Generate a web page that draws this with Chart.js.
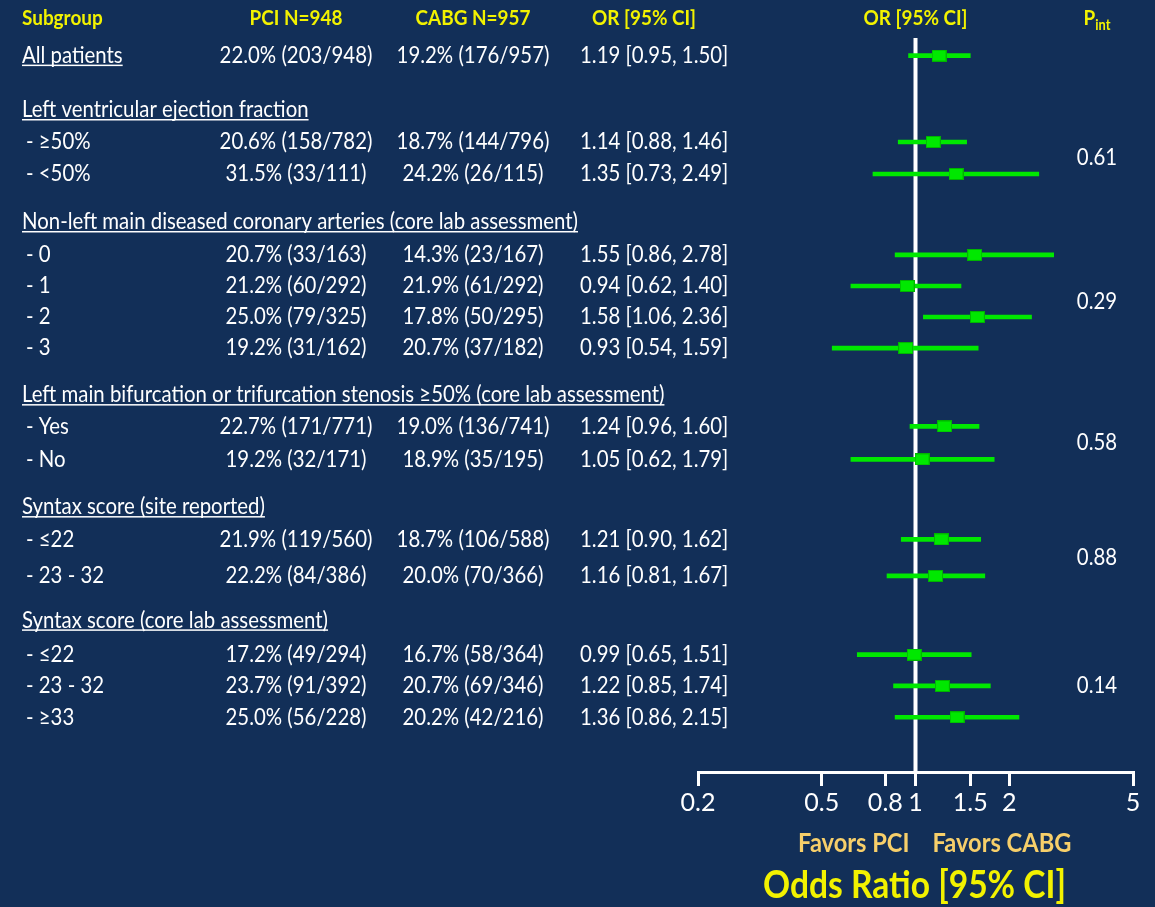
<!DOCTYPE html>
<html>
<head>
<meta charset="utf-8">
<title>Forest plot: PCI vs CABG by subgroup</title>
<script src="https://cdn.jsdelivr.net/npm/chart.js@4/dist/chart.umd.min.js"></script>
<style>
  html, body { margin: 0; padding: 0; background: #122f58; }
  #wrap { width: 1155px; height: 907px; position: relative; }
</style>
</head>
<body>
<div id="wrap"><canvas id="forest"></canvas></div>
<script>
// ---- Table and plot data ----
const rowLabels = [
  'All patients',
  'Left ventricular ejection fraction', '- ≥50%', '- <50%',
  'Non-left main diseased coronary arteries (core lab assessment)', '- 0', '- 1', '- 2', '- 3',
  'Left main bifurcation or trifurcation stenosis ≥50% (core lab assessment)', '- Yes', '- No',
  'Syntax score (site reported)', '- ≤22', '- 23 - 32',
  'Syntax score (core lab assessment)', '- ≤22', '- 23 - 32', '- ≥33'
];
const pciPct     = [22.0, null, 20.6, 31.5, null, 20.7, 21.2, 25.0, 19.2, null, 22.7, 19.2, null, 21.9, 22.2, null, 17.2, 23.7, 25.0];
const pciEvents  = [203, null, 158, 33, null, 33, 60, 79, 31, null, 171, 32, null, 119, 84, null, 49, 91, 56];
const pciTotal   = [948, null, 782, 111, null, 163, 292, 325, 162, null, 771, 171, null, 560, 386, null, 294, 392, 228];
const cabgPct    = [19.2, null, 18.7, 24.2, null, 14.3, 21.9, 17.8, 20.7, null, 19.0, 18.9, null, 18.7, 20.0, null, 16.7, 20.7, 20.2];
const cabgEvents = [176, null, 144, 26, null, 23, 61, 50, 37, null, 136, 35, null, 106, 70, null, 58, 69, 42];
const cabgTotal  = [957, null, 796, 115, null, 167, 292, 295, 182, null, 741, 195, null, 588, 366, null, 364, 346, 216];
const oddsRatio  = [1.19, null, 1.14, 1.35, null, 1.55, 0.94, 1.58, 0.93, null, 1.24, 1.05, null, 1.21, 1.16, null, 0.99, 1.22, 1.36];
const ciLower    = [0.95, null, 0.88, 0.73, null, 0.86, 0.62, 1.06, 0.54, null, 0.96, 0.62, null, 0.90, 0.81, null, 0.65, 0.85, 0.86];
const ciUpper    = [1.50, null, 1.46, 2.49, null, 2.78, 1.40, 2.36, 1.59, null, 1.60, 1.79, null, 1.62, 1.67, null, 1.51, 1.74, 2.15];
const pInteraction     = ['0.61', '0.29', '0.58', '0.88', '0.14'];
const pInteractionRows = [[2, 3], [5, 6, 7, 8], [10, 11], [13, 14], [16, 17, 18]];
const xTickValues = [0.2, 0.5, 0.8, 1, 1.5, 2, 5];
const columnTitles = ['Subgroup', 'PCI N=948', 'CABG N=957', 'OR [95% CI]', 'OR [95% CI]'];
const favorsLabels = ['Favors PCI', 'Favors CABG'];
const axisTitle = 'Odds Ratio [95% CI]';

// ---- Layout (vertical position of each row, in row units down from the top of the plot) ----
const rowPos = [0.55, 2.25, 3.25, 4.25, 5.75, 6.78, 7.75, 8.72, 9.69, 11.16, 12.14, 13.17,
                14.66, 15.67, 16.81, 18.2, 19.27, 20.25, 21.23];
const rowSpan = 22.94;

// ---- Style ----
const NAVY = '#122f58';
const GREEN = '#00e800';
const YELLOW = '#f2f200';
const GOLD = '#f7cf6a';
const WHITE = '#ffffff';
const FAMILY = 'Lato, "Liberation Sans", sans-serif';
const TEXT_STRETCH = 1.12;   // taller glyphs for the same width

const measureCtx = document.createElement('canvas').getContext('2d');
function fitSize(text, width, weight) {
  measureCtx.font = `${weight} 100px ${FAMILY}`;
  return 100 * width / measureCtx.measureText(text).width;
}
const bodySize   = fitSize(rowLabels[9], 643, 'normal');
const headSize   = fitSize(columnTitles[1], 93, 'bold');
const favorsSize = fitSize(favorsLabels[1], 139, 'bold');
const titleSize  = fitSize(axisTitle, 303, 'bold');
const tickSize   = fitSize('0.5', 35, 'normal');

// Marker for the point estimate
const marker = document.createElement('canvas');
marker.width = 15; marker.height = 12;
(function () {
  const m = marker.getContext('2d');
  m.fillStyle = GREEN;
  m.fillRect(0, 0, 15, 12);
  m.strokeStyle = '#00b400';
  m.lineWidth = 1;
  m.strokeRect(0.5, 0.5, 14, 11);
})();

const fmtPct = (p, e, n) => `${p.toFixed(1)}% (${e}/${n})`;
const fmtOR = (o, l, u) => `${o.toFixed(2)} [${l.toFixed(2)}, ${u.toFixed(2)}]`;

const ciData = [], orData = [];
rowLabels.forEach((_, i) => {
  if (oddsRatio[i] == null) return;
  ciData.push({ x: [ciLower[i], ciUpper[i]], y: rowPos[i] });
  orData.push({ x: oddsRatio[i], y: rowPos[i] });
});

// text drawn with a slight vertical stretch, centred on y
function stretchedText(c, text, x, y) {
  c.save();
  c.translate(x, y);
  c.scale(1, TEXT_STRETCH);
  c.fillText(text, 0, 0);
  c.restore();
}

const background = {
  id: 'background',
  beforeDraw(chart) {
    const c = chart.ctx;
    c.save();
    c.fillStyle = NAVY;
    c.fillRect(0, 0, chart.width, chart.height);
    c.restore();
  }
};

const referenceLine = {
  id: 'referenceLine',
  beforeDatasetsDraw(chart) {
    const c = chart.ctx, a = chart.chartArea;
    const x = chart.scales.x.getPixelForValue(1);
    c.save();
    c.strokeStyle = WHITE;
    c.lineWidth = 4;
    c.beginPath();
    c.moveTo(x, a.top);
    c.lineTo(x, a.bottom);
    c.stroke();
    c.restore();
  }
};

const table = {
  id: 'table',
  afterDraw(chart) {
    const c = chart.ctx, a = chart.chartArea;
    const ys = chart.scales.y, xs = chart.scales.x;
    const x1 = xs.getPixelForValue(1);
    const colSub = 22, colSubItem = 26, colPci = 296, colCabg = 473, colOr = 580, colOrHead = 644, colP = 1097;
    c.save();
    c.textBaseline = 'middle';

    // column titles
    const hy = a.top - 20;
    c.fillStyle = YELLOW;
    c.font = `bold ${headSize}px ${FAMILY}`;
    c.textAlign = 'left';  stretchedText(c, columnTitles[0], colSub, hy);
    c.textAlign = 'center';
    stretchedText(c, columnTitles[1], colPci, hy);
    stretchedText(c, columnTitles[2], colCabg, hy);
    stretchedText(c, columnTitles[3], colOrHead, hy);
    stretchedText(c, columnTitles[4], x1, hy);
    // P with "int" subscript
    const pW = c.measureText('P').width;
    c.font = `bold ${headSize * 0.68}px ${FAMILY}`;
    const subW = c.measureText('int').width;
    const px = colP - (pW + subW) / 2;
    c.textAlign = 'left';
    stretchedText(c, 'int', px + pW, hy + 7);
    c.font = `bold ${headSize}px ${FAMILY}`;
    stretchedText(c, 'P', px, hy);

    // rows
    c.fillStyle = WHITE;
    c.font = `${bodySize}px ${FAMILY}`;
    rowLabels.forEach((label, i) => {
      const y = ys.getPixelForValue(rowPos[i]);
      const isItem = label.startsWith('-');
      c.textAlign = 'left';
      const lx = isItem ? colSubItem : colSub;
      stretchedText(c, label, lx, y);
      if (!isItem) {
        const w = c.measureText(label).width;
        c.fillRect(lx, y + 9, w, 1.5);
      }
      if (oddsRatio[i] != null) {
        c.textAlign = 'center';
        stretchedText(c, fmtPct(pciPct[i], pciEvents[i], pciTotal[i]), colPci, y);
        stretchedText(c, fmtPct(cabgPct[i], cabgEvents[i], cabgTotal[i]), colCabg, y);
        c.textAlign = 'left';
        stretchedText(c, fmtOR(oddsRatio[i], ciLower[i], ciUpper[i]), colOr, y);
      }
    });

    // interaction p-values, centred on their subgroup rows
    c.textAlign = 'center';
    pInteraction.forEach((p, k) => {
      const rows = pInteractionRows[k];
      const mean = rows.reduce((s, r) => s + rowPos[r], 0) / rows.length;
      stretchedText(c, p, colP, ys.getPixelForValue(mean));
    });

    // favours labels and axis title
    c.fillStyle = GOLD;
    c.font = `bold ${favorsSize}px ${FAMILY}`;
    c.textAlign = 'right'; stretchedText(c, favorsLabels[0], x1 - 6, a.bottom + 71);
    c.textAlign = 'left';  stretchedText(c, favorsLabels[1], x1 + 17, a.bottom + 71);
    c.fillStyle = YELLOW;
    c.font = `bold ${titleSize}px ${FAMILY}`;
    c.textAlign = 'center';
    stretchedText(c, axisTitle, x1 - 1, a.bottom + 114);
    c.restore();
  }
};

new Chart(document.getElementById('forest'), {
  type: 'scatter',
  data: {
    datasets: [
      {
        type: 'bar',
        indexAxis: 'y',
        data: ciData,
        backgroundColor: GREEN,
        barThickness: 4,
        borderWidth: 0,
        grouped: false,
        order: 2
      },
      {
        type: 'scatter',
        data: orData,
        pointStyle: marker,
        pointRadius: 7,
        order: 1
      }
    ]
  },
  options: {
    responsive: true,
    maintainAspectRatio: false,
    animation: false,
    layout: { padding: { left: 698, right: 22, top: 38, bottom: 85 } },
    plugins: { legend: { display: false }, tooltip: { enabled: false } },
    scales: {
      x: {
        type: 'logarithmic',
        min: 0.2,
        max: 5,
        afterBuildTicks(scale) { scale.ticks = xTickValues.map(v => ({ value: v })); },
        afterFit(scale) { scale.height = 50; },
        ticks: {
          color: WHITE,
          font: { family: FAMILY, size: tickSize },
          padding: 2,
          autoSkip: false,
          maxRotation: 0,
          callback: v => String(v)
        },
        grid: { drawOnChartArea: false, drawTicks: true, tickLength: 14, color: WHITE, lineWidth: 3 },
        border: { display: true, color: WHITE, width: 3 }
      },
      y: { type: 'linear', display: false, reverse: true, offset: false, min: 0, max: rowSpan }
    }
  },
  plugins: [background, referenceLine, table]
});
</script>
</body>
</html>
